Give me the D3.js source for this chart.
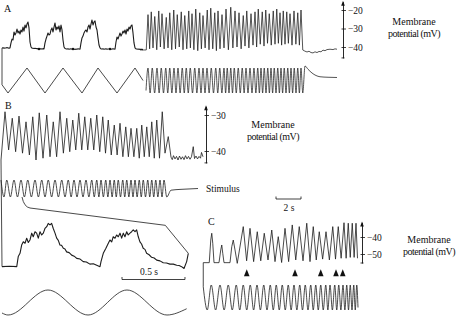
<!DOCTYPE html>
<html>
<head>
<meta charset="utf-8">
<script src="https://cdn.jsdelivr.net/npm/d3@7"></script>
<style>
body { margin: 0; background: #fff; }
svg text { font-family: "Liberation Serif", "DejaVu Serif", serif; fill: #111; }
.trace { fill: none; stroke: #1c1c1c; stroke-linejoin: round; }
</style>
</head>
<body>
<svg width="456" height="316"></svg>
<script>
// ---------- A, left: slow triangle ramp and bursting response ----------
const aSlowDt = 0.08; // s per sample
const aSlowMv = [-40.5,-40.4,-40.6,-40.5,-40.5,-40.3,-40.5,-40.6,-40.5,-37.8,-35.7,-36.2,-31.9,-33.5,-32.4,-30.3,
  -32.4,-31.4,-33.0,-30.8,-31.9,-29.2,-31.4,-28.1,-29.7,-27.6,-26.5,-29.7,-37.3,-40.0,
  -40.6,-40.7,-40.8,-40.7,-40.8,-40.9,-41.0,-40.9,-41.0,-41.0,-41.1,-40.9,-41.0,
  -37.8,-35.7,-34.1,-32.4,-33.5,-33.0,-30.8,-29.7,-31.9,-29.2,-27.0,-30.8,-29.2,-30.3,-28.6,-31.9,-28.1,-30.8,-36.2,-40.0,
  -40.8,-41.0,-41.1,-41.0,-41.2,-41.1,-41.0,-41.2,-41.1,-41.1,-41.3,-41.1,-41.2,-41.0,-41.1,-41.2,
  -37.8,-35.1,-34.1,-32.4,-31.4,-30.8,-31.9,-29.2,-28.1,-30.3,-27.6,-25.4,-28.1,-26.5,-25.9,-29.2,-30.8,-35.1,-38.9,-40.5,
  -41.0,-41.1,-41.0,-41.2,-41.1,-41.0,-41.2,-41.1,-41.1,-41.0,-41.2,-41.1,-41.0,-41.1,-41.2,
  -37.3,-34.6,-35.7,-34.1,-32.4,-34.1,-33.0,-31.4,-32.4,-30.8,-33.0,-30.3,-31.4,-29.2,-30.3,-28.6,-28.1,-32.4,-37.8,-40.5,
  -41.0,-41.1,-41.2,-41.1,-41.3,-41.2,-41.3,-41.4];
const aSlowDots = [2.96, 5.68, 8.64];
const aTriangle = [[0,0.33],[0.48,0],[2.0,1],[3.44,0],[4.88,1],[6.4,0],[7.68,1],[9.2,0],[10.64,1],[11.28,0.5]];

// ---------- A, right: fast sinusoidal drive ----------
const aFastPeakT = [0.08,0.34,0.62,0.94,1.20,1.54,1.82,2.14,2.42,2.74,3.02,3.34,3.60,3.90,4.22,4.48,4.82,5.10,5.42,5.68,
  6.00,6.32,6.70,7.04,7.36,7.70,7.98,8.32,8.64,8.90,9.22,9.50,9.78,10.10,10.38,10.64,10.90,11.18,11.44,11.76,12.06,12.32];
const aFastPeakMv = [-22.5,-21.0,-23.5,-20.5,-22.0,-24.0,-21.5,-20.0,-22.5,-21.0,-23.0,-20.5,-22.0,-19.5,-21.5,-23.0,-20.0,-19.0,-21.5,-20.5,
  -22.5,-19.5,-18.5,-20.5,-21.5,-23.0,-20.5,-22.0,-21.0,-19.5,-21.0,-20.0,-22.0,-20.5,-19.5,-21.5,-20.5,-21.0,-22.0,-20.5,-21.5,-20.0];
const aFastTroughMv = [-41.0,-40.5,-41.5,-40.0,-41.0,-40.5,-41.5,-41.0,-40.0,-41.5,-41.0,-40.5,-41.5,-42.0,-41.0,-40.5,-41.5,-41.0,-42.0,-41.0,
  -40.5,-41.5,-40.5,-40.0,-41.0,-39.5,-40.5,-39.0,-40.0,-38.5,-39.5,-38.0,-39.0,-38.5,-38.0,-39.0,-38.5,-38.0,-39.0,-38.5,-39.0];
const aFastLead = [[-0.56,-41.6],[-0.06,-41.6]];
const aFastTail = [[12.46,-41.6],[12.62,-42.2],[12.8,-42.7],[12.96,-42.3],[13.12,-43.0],[13.28,-43.2],[13.44,-42.6],[13.6,-43.0],
  [13.76,-42.4],[13.92,-42.6],[14.08,-41.7],[14.24,-42.0],[14.4,-41.4],[14.64,-41.2],[14.88,-41.4],[15.04,-41.0],[15.2,-41.2]];
const aStimPeakT = [0.08,0.42,0.80,1.14,1.50,1.82,2.16,2.48,2.82,3.14,3.46,3.82,4.16,4.48,4.80,5.14,5.50,5.82,6.16,6.42,
  6.70,6.98,7.30,7.62,7.92,8.24,8.56,8.86,9.12,9.38,9.66,9.92,10.18,10.46,10.72,10.98,11.26,11.52,11.78,12.06,12.32];
const aStimLead = [[-0.08,0.1]];
const aStimTail = [[12.46,0],[12.64,1.08],[12.88,0.95],[13.2,0.8],[13.52,0.7],[13.84,0.65],[14.48,0.63],[15.2,0.62]];
const aTicks = [-20, -30, -40];

// ---------- B ----------
const bPeakT = [0.32,0.90,1.44,2.00,2.54,3.06,3.66,4.18,4.72,5.26,5.74,6.22,6.70,7.18,7.66,8.14,8.58,9.06,9.52,9.98,
  10.40,10.86,11.26,11.66,12.06,12.46,12.90];
const bPeakMv = [-29.1,-30.9,-30.3,-31.9,-30.5,-29.4,-30.0,-31.9,-29.1,-30.9,-31.4,-29.5,-30.5,-30.9,-30.0,-30.5,-31.4,-32.8,-32.3,-33.3,
  -33.7,-33.7,-32.8,-33.3,-31.9,-31.4,-29.1];
const bTroughMv = [-39.7,-40.2,-40.6,-41.1,-42.5,-42.0,-41.6,-41.6,-40.6,-40.2,-39.7,-39.7,-39.7,-39.7,-40.2,-40.6,-41.1,-41.1,-41.6,-41.6,
  -41.6,-42.0,-41.6,-41.6,-42.0,-42.0];
const bLead = [[0,-42.5]];
const bTail = [[13.12,-40.6],[13.38,-36.0],[13.6,-41.7],[13.7,-42.4],[13.8,-41.3],[13.92,-42.2],[14.04,-41.5],[14.16,-42.5],[14.28,-41.4],
  [14.4,-42.3],[14.52,-41.6],[14.64,-42.4],[14.76,-41.3],[14.88,-42.2],[15.0,-41.5],[15.12,-42.3],[15.24,-41.6],[15.38,-38.8],[15.48,-42.1],
  [15.6,-41.4],[15.72,-42.2],[15.84,-41.5],[15.96,-42.0],[16.04,-40.4],[16.16,-41.6]];
const bStimPeakT = [0.46,1.04,1.60,2.14,2.72,3.26,3.78,4.32,4.86,5.38,5.84,6.32,6.80,7.26,7.66,8.00,8.38,8.72,9.06,9.38,
  9.74,10.06,10.40,10.72,11.06,11.38,11.74,12.06,12.38,12.72,13.04];
const bStimLead = [[0,1.0],[0.24,0]];
const bStimTail = [[13.26,0],[13.6,0.4],[14.4,0.45],[15.76,0.5]];
const bTicks = [-30, -40];

// B expanded (ms, mV)
const bZoom = [[0,-41.9],[60,-41.8],[117,-41.9],[129,-39.1],[143,-38.2],[156,-35.9],[169,-35.0],[183,-35.4],[196,-34.0],[209,-35.2],
  [222,-34.5],[236,-32.6],[248,-33.6],[262,-32.2],[275,-32.6],[288,-34.0],[302,-32.2],[315,-33.1],[328,-32.6],[341,-31.3],[355,-30.8],
  [367,-29.9],[381,-30.3],[394,-29.9],[407,-31.3],[421,-32.6],[434,-34.0],[447,-34.6],[460,-35.9],[474,-36.0],[487,-36.8],[500,-37.0],
  [513,-37.8],[533,-38.0],[553,-38.7],[573,-39.0],[593,-39.6],[620,-39.8],[645,-40.5],[670,-40.6],[698,-41.2],[725,-41.1],[752,-41.5],
  [778,-41.9],[786,-40.5],[804,-38.2],[825,-36.8],[844,-35.4],[857,-34.5],[871,-35.0],[883,-33.6],[897,-34.0],[910,-33.1],[923,-33.6],
  [937,-32.6],[950,-34.0],[963,-32.6],[976,-33.6],[990,-32.2],[1002,-33.1],[1016,-32.6],[1029,-32.2],[1042,-31.7],[1056,-32.2],
  [1069,-31.7],[1082,-33.6],[1095,-35.0],[1108,-35.6],[1121,-36.8],[1135,-37.1],[1148,-38.2],[1168,-38.6],[1188,-39.3],[1208,-39.5],
  [1228,-40.1],[1254,-40.3],[1280,-40.8],[1306,-40.9],[1333,-41.2],[1360,-41.2],[1387,-41.5],[1406,-41.6],[1426,-41.9],[1445,-42.4],
  [1466,-40.5],[1479,-38.2]];
const bZoomStim = [[0,0.08],[48,0],[365,1],[683,0],[992,1],[1310,0],[1466,0.25]];

// ---------- C ----------
const cOnset = [[0.02,-55.1],[0.50,-55.1],[0.62,-41.8],[0.70,-37.8],[0.78,-43.7],[0.88,-55.1],[1.28,-55.1],[1.42,-47.6],[1.50,-44.7],
  [1.58,-49.6],[1.68,-55.1],[2.16,-55.1],[2.30,-45.7],[2.42,-41.8],[2.56,-47.6],[2.74,-55.5]];
const cPeakT = [3.22,3.76,4.34,4.90,5.50,6.02,6.56,7.14,7.70,8.30,8.82,9.30,9.84,10.38,10.82,11.28,11.62,11.94,12.24];
const cPeakMv = [-33.9,-34.9,-36.9,-37.8,-35.9,-39.8,-34.9,-32.9,-33.9,-31.9,-33.9,-36.9,-36.9,-33.9,-33.9,-31.6,-31.9,-31.9,-31.9];
const cTroughMv = [-54.0,-54.5,-54.0,-53.5,-54.5,-55.0,-54.5,-53.5,-54.0,-54.5,-53.5,-53.0,-53.5,-53.0,-52.5,-52.5,-52.0,-52.0];
const cTail = [[12.36,-52.5]];
const cArrowT = [3.50, 7.36, 9.42, 10.64, 11.18];
const cStimPeakT = [0.66,1.36,2.02,2.66,3.22,3.78,4.32,4.86,5.38,5.86,6.34,6.82,7.28,7.74,8.18,8.62,9.02,9.42,9.82,10.16,
  10.54,10.86,11.20,11.50,11.78,12.06,12.30];
const cStimLead = [[0.02,0.93],[0.34,0]];
const cStimTail = [[12.40,0.1]];
const cTicks = [-40, -50];

// ---------- scales ----------
const svg = d3.select("svg");
const xASlow = d3.scaleLinear().domain([0, 11.28]).range([2, 143]);
const xAFast = d3.scaleLinear().domain([0, 15.2]).range([147, 337]);
const yA = d3.scaleLinear().domain([-40, -20]).range([47, 10]);
const yAStim = d3.scaleLinear().domain([0, 1]).range([93, 68]);

const xB = d3.scaleLinear().domain([0, 16.16]).range([1, 203]);
const yB = d3.scaleLinear().domain([-40, -30]).range([151, 115]);
const yBStim = d3.scaleLinear().domain([0, 1]).range([197, 180]);
const xBz = d3.scaleLinear().domain([0, 1479]).range([2, 188.3]);
const yBz = d3.scaleLinear().domain([-42, -30]).range([267, 223.8]);
const yBzStim = d3.scaleLinear().domain([0, 1]).range([315, 290]);

const xC = d3.scaleLinear().domain([0, 12.4]).range([203, 358]);
const yC = d3.scaleLinear().domain([-50, -40]).range([254, 237]);
const yCStim = d3.scaleLinear().domain([0, 1]).range([310, 285]);

// ---------- helpers ----------
function osc(lead, peakT, peakV, troughV, tail) {
  let pts = lead.slice();
  peakT.forEach(function(t, i) {
    pts.push([t, typeof peakV === "number" ? peakV : peakV[i]]);
    if (i < peakT.length - 1) {
      let tv = typeof troughV === "number" ? troughV : troughV[i];
      pts.push([(t + peakT[i + 1]) / 2, tv]);
    }
  });
  return pts.concat(tail);
}

function trace(pts, x, y, curve, w) {
  let line = d3.line().x(d => x(d[0])).y(d => y(d[1])).curve(curve || d3.curveLinear);
  return svg.append("path").attr("class", "trace")
    .attr("stroke-width", w || 0.8)
    .attr("d", line(pts));
}

function link(p, q) {
  svg.append("line").attr("x1", p[0]).attr("y1", p[1]).attr("x2", q[0]).attr("y2", q[1])
    .attr("stroke", "#1c1c1c").attr("stroke-width", 0.8);
}

function vAxis(x, y, ticks, lo, hi) {
  let s = y.copy().domain([lo, hi]).range([y(lo), y(hi)]);
  let g = svg.append("g").attr("transform", "translate(" + x + ",0)")
    .style("color", "#111")
    .call(d3.axisRight(s).tickValues(ticks).tickSize(3).tickSizeOuter(0).tickPadding(2));
  g.attr("font-size", 9.5);
  g.select(".domain").attr("stroke-width", 0.9);
  g.selectAll(".tick line").attr("x1", -1.5).attr("stroke-width", 0.8);
  // arrow at top, cap at bottom
  let top = s(hi);
  g.append("path").attr("d", "M-1.8," + (top + 4) + "L0," + (top - 1) + "L1.8," + (top + 4) + "Z").attr("fill", "#111");
  g.append("line").attr("x1", -1.5).attr("x2", 1.5).attr("y1", s(lo)).attr("y2", s(lo)).attr("stroke", "#111").attr("stroke-width", 0.8);
}

function label(x, y, txt, anchor, size) {
  return svg.append("text").attr("x", x).attr("y", y).attr("text-anchor", anchor || "start")
    .attr("font-size", size || 10).text(txt);
}

function unitLabel(cx, yTop) {
  label(cx, yTop, "Membrane", "middle");
  label(cx, yTop + 12, "potential (mV)", "middle").attr("letter-spacing", -0.5);
}

function scaleBar(x0, yb, len, txt, tx, ty) {
  svg.append("path")
    .attr("d", "M" + x0 + "," + (yb - 2.5) + "V" + yb + "H" + (x0 + len) + "V" + (yb - 2.5))
    .attr("fill", "none").attr("stroke", "#111").attr("stroke-width", 0.8);
  label(tx, ty, txt, "middle", 9.5);
}

// ---------- panel A ----------
const aSlowPts = aSlowMv.map((v, i) => [i * aSlowDt, v]);
trace(aSlowPts, xASlow, yA, d3.curveLinear, 1.1);
svg.selectAll(".adot").data(aSlowDots).enter().append("circle")
  .attr("cx", d => xASlow(d)).attr("cy", yA(-41.1)).attr("r", 1.2).attr("fill", "#111");
trace(aTriangle, xASlow, yAStim, d3.curveLinear, 0.8);
link([xASlow(0), yA(aSlowMv[0])], [xASlow(aTriangle[0][0]), yAStim(aTriangle[0][1])]);

trace(osc(aFastLead, aFastPeakT, aFastPeakMv, aFastTroughMv, aFastTail), xAFast, yA, d3.curveLinear, 0.75);
trace(osc(aStimLead, aStimPeakT, 1, 0, aStimTail), xAFast, yAStim, d3.curveMonotoneX, 0.75);

vAxis(343, yA, aTicks, -45.9, -15.5);
label(4, 12, "A");
unitLabel(414, 25);

// ---------- panel B ----------
const bPts = osc(bLead, bPeakT, bPeakMv, bTroughMv, bTail);
trace(bPts, xB, yB, d3.curveLinear, 0.8);
const bStimPts = osc(bStimLead, bStimPeakT, 1, 0, bStimTail);
trace(bStimPts, xB, yBStim, d3.curveMonotoneX, 0.8);
trace(bZoom, xBz, yBz, d3.curveLinear, 1.1);
trace(bZoomStim, xBz, yBzStim, d3.curveMonotoneX, 0.8);

// vertical marker at the start and the expansion lines
link([xB(0), yB(bLead[0][1])], [xBz(0), yBz(bZoom[0][1])]);
const zEnd = bZoom[bZoom.length - 1];
const cStart = [xB(bStimPeakT[2]) + 1, yBStim(0)];
const cEnd = [xBz(zEnd[0]), yBz(zEnd[1])];
svg.append("path").attr("class", "trace").attr("stroke-width", 0.8)
  .attr("d", "M" + cStart[0] + "," + cStart[1] +
    "Q" + (cStart[0] + 2) + "," + (cStart[1] + 10) + " " + (cStart[0] + 8) + "," + (cStart[1] + 11) +
    "L" + (cEnd[0] - 23) + "," + (cEnd[1] - 28) + "L" + cEnd[0] + "," + cEnd[1]);

vAxis(206, yB, bTicks, -43.3, -27.6);
label(5, 109, "B");
unitLabel(273, 128);
label(206, 192, "Stimulus", "start", 9.5);
scaleBar(276, 199, xB(2) - xB(0), "2 s", 289, 211);
scaleBar(122, 279.5, xBz(500) - xBz(0), "0.5 s", 149, 275);

// ---------- panel C ----------
const cPts = cOnset.concat(osc([], cPeakT, cPeakMv, cTroughMv, cTail));
trace(cPts, xC, yC, d3.curveLinear, 0.8);
const cStimPts = osc(cStimLead, cStimPeakT, 1, 0, cStimTail);
trace(cStimPts, xC, yCStim, d3.curveMonotoneX, 0.8);
link([xC(cOnset[0][0]), yC(cOnset[0][1])], [xC(cStimLead[0][0]), yCStim(cStimLead[0][1])]);

svg.selectAll(".carrow").data(cArrowT).enter().append("path")
  .attr("d", d => {
    let x = xC(d), y = yC(-59);
    return "M" + x + "," + y + "L" + (x + 2.8) + "," + (y + 7) + "L" + (x - 2.8) + "," + (y + 7) + "Z";
  })
  .attr("fill", "#111");

vAxis(362, yC, cTicks, -55.3, -31.4);
label(208, 225, "C");
unitLabel(429, 243);
</script>
</body>
</html>
